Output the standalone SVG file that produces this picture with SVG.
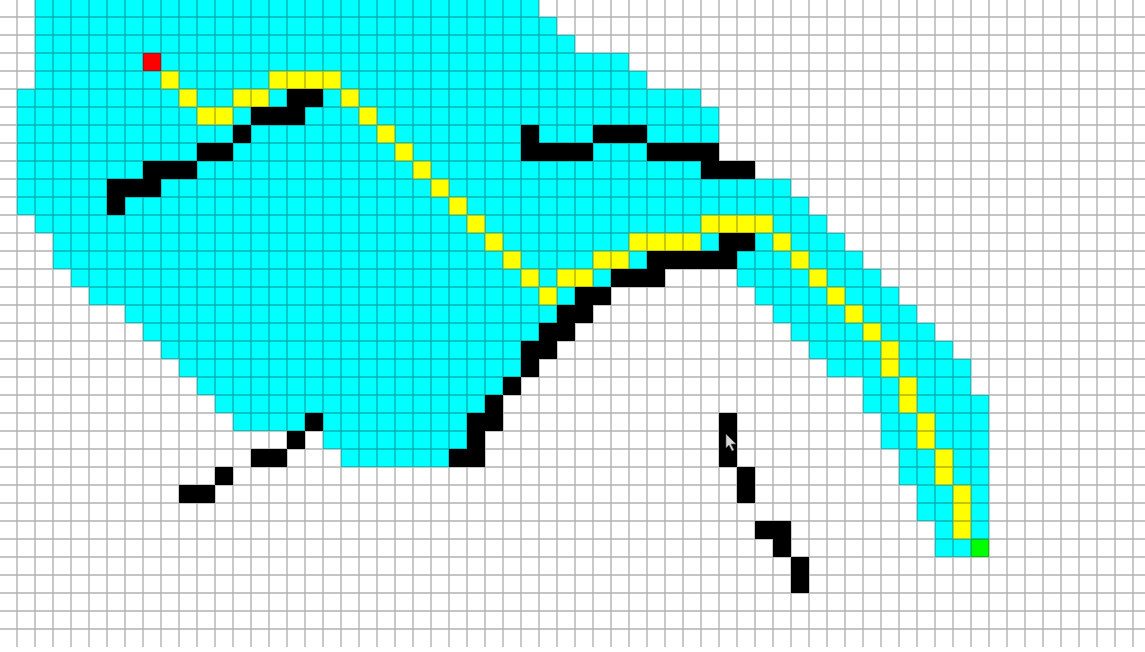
<svg xmlns="http://www.w3.org/2000/svg" width="1145" height="652" viewBox="0 0 1145 652">
<style>
.cy{fill:#00ffff}
.wl{fill:#000000}
.pt{fill:#ffff00}
.st{fill:#ff0000}
.gl{fill:#00ff00}
.grid{fill:none;stroke:#000000;stroke-opacity:0.3;stroke-width:1.4}
</style>
<rect x="0" y="0" width="1145" height="652" fill="#ffffff"/>
<g transform="translate(-1,-1)">
<g id="explored">
<rect class="cy" x="36" y="0" width="504" height="18"/>
<rect class="cy" x="36" y="18" width="522" height="18"/>
<rect class="cy" x="36" y="36" width="540" height="18"/>
<rect class="cy" x="36" y="54" width="594" height="18"/>
<rect class="cy" x="36" y="72" width="612" height="18"/>
<rect class="cy" x="18" y="90" width="684" height="18"/>
<rect class="cy" x="18" y="108" width="702" height="18"/>
<rect class="cy" x="18" y="126" width="702" height="18"/>
<rect class="cy" x="18" y="144" width="630" height="18"/>
<rect class="cy" x="18" y="162" width="684" height="18"/>
<rect class="cy" x="18" y="180" width="774" height="18"/>
<rect class="cy" x="18" y="198" width="792" height="18"/>
<rect class="cy" x="36" y="216" width="792" height="18"/>
<rect class="cy" x="54" y="234" width="792" height="18"/>
<rect class="cy" x="54" y="252" width="810" height="18"/>
<rect class="cy" x="72" y="270" width="540" height="18"/>
<rect class="cy" x="738" y="270" width="144" height="18"/>
<rect class="cy" x="90" y="288" width="486" height="18"/>
<rect class="cy" x="756" y="288" width="144" height="18"/>
<rect class="cy" x="126" y="306" width="432" height="18"/>
<rect class="cy" x="774" y="306" width="144" height="18"/>
<rect class="cy" x="144" y="324" width="396" height="18"/>
<rect class="cy" x="792" y="324" width="144" height="18"/>
<rect class="cy" x="162" y="342" width="360" height="18"/>
<rect class="cy" x="810" y="342" width="144" height="18"/>
<rect class="cy" x="180" y="360" width="342" height="18"/>
<rect class="cy" x="828" y="360" width="144" height="18"/>
<rect class="cy" x="198" y="378" width="306" height="18"/>
<rect class="cy" x="864" y="378" width="108" height="18"/>
<rect class="cy" x="216" y="396" width="270" height="18"/>
<rect class="cy" x="864" y="396" width="126" height="18"/>
<rect class="cy" x="234" y="414" width="234" height="18"/>
<rect class="cy" x="882" y="414" width="108" height="18"/>
<rect class="cy" x="324" y="432" width="144" height="18"/>
<rect class="cy" x="882" y="432" width="108" height="18"/>
<rect class="cy" x="342" y="450" width="108" height="18"/>
<rect class="cy" x="900" y="450" width="90" height="18"/>
<rect class="cy" x="900" y="468" width="90" height="18"/>
<rect class="cy" x="918" y="486" width="72" height="18"/>
<rect class="cy" x="918" y="504" width="72" height="18"/>
<rect class="cy" x="936" y="522" width="54" height="18"/>
<rect class="cy" x="936" y="540" width="36" height="18"/>
</g>
<g id="walls">
<rect class="wl" x="288" y="90" width="36" height="18"/>
<rect class="wl" x="252" y="108" width="54" height="18"/>
<rect class="wl" x="234" y="126" width="18" height="18"/>
<rect class="wl" x="522" y="126" width="18" height="18"/>
<rect class="wl" x="594" y="126" width="54" height="18"/>
<rect class="wl" x="198" y="144" width="36" height="18"/>
<rect class="wl" x="522" y="144" width="72" height="18"/>
<rect class="wl" x="648" y="144" width="72" height="18"/>
<rect class="wl" x="144" y="162" width="54" height="18"/>
<rect class="wl" x="702" y="162" width="54" height="18"/>
<rect class="wl" x="108" y="180" width="54" height="18"/>
<rect class="wl" x="108" y="198" width="18" height="18"/>
<rect class="wl" x="720" y="234" width="36" height="18"/>
<rect class="wl" x="648" y="252" width="90" height="18"/>
<rect class="wl" x="612" y="270" width="54" height="18"/>
<rect class="wl" x="576" y="288" width="36" height="18"/>
<rect class="wl" x="558" y="306" width="36" height="18"/>
<rect class="wl" x="540" y="324" width="36" height="18"/>
<rect class="wl" x="522" y="342" width="36" height="18"/>
<rect class="wl" x="522" y="360" width="18" height="18"/>
<rect class="wl" x="504" y="378" width="18" height="18"/>
<rect class="wl" x="486" y="396" width="18" height="18"/>
<rect class="wl" x="468" y="414" width="36" height="18"/>
<rect class="wl" x="468" y="432" width="18" height="18"/>
<rect class="wl" x="450" y="450" width="36" height="18"/>
<rect class="wl" x="306" y="414" width="18" height="18"/>
<rect class="wl" x="288" y="432" width="18" height="18"/>
<rect class="wl" x="252" y="450" width="36" height="18"/>
<rect class="wl" x="216" y="468" width="18" height="18"/>
<rect class="wl" x="180" y="486" width="36" height="18"/>
<rect class="wl" x="720" y="414" width="18" height="54"/>
<rect class="wl" x="738" y="468" width="18" height="36"/>
<rect class="wl" x="756" y="522" width="36" height="18"/>
<rect class="wl" x="774" y="540" width="18" height="18"/>
<rect class="wl" x="792" y="558" width="18" height="36"/>
</g>
<g id="route">
<rect class="pt" x="162" y="72" width="18" height="18"/>
<rect class="pt" x="180" y="90" width="18" height="18"/>
<rect class="pt" x="198" y="108" width="36" height="18"/>
<rect class="pt" x="234" y="90" width="36" height="18"/>
<rect class="pt" x="270" y="72" width="72" height="18"/>
<rect class="pt" x="342" y="90" width="18" height="18"/>
<rect class="pt" x="360" y="108" width="18" height="18"/>
<rect class="pt" x="378" y="126" width="18" height="18"/>
<rect class="pt" x="396" y="144" width="18" height="18"/>
<rect class="pt" x="414" y="162" width="18" height="18"/>
<rect class="pt" x="432" y="180" width="18" height="18"/>
<rect class="pt" x="450" y="198" width="18" height="18"/>
<rect class="pt" x="468" y="216" width="18" height="18"/>
<rect class="pt" x="486" y="234" width="18" height="18"/>
<rect class="pt" x="504" y="252" width="18" height="18"/>
<rect class="pt" x="522" y="270" width="18" height="18"/>
<rect class="pt" x="540" y="288" width="18" height="18"/>
<rect class="pt" x="558" y="270" width="36" height="18"/>
<rect class="pt" x="594" y="252" width="36" height="18"/>
<rect class="pt" x="630" y="234" width="72" height="18"/>
<rect class="pt" x="702" y="216" width="72" height="18"/>
<rect class="pt" x="774" y="234" width="18" height="18"/>
<rect class="pt" x="792" y="252" width="18" height="18"/>
<rect class="pt" x="810" y="270" width="18" height="18"/>
<rect class="pt" x="828" y="288" width="18" height="18"/>
<rect class="pt" x="846" y="306" width="18" height="18"/>
<rect class="pt" x="864" y="324" width="18" height="18"/>
<rect class="pt" x="882" y="342" width="18" height="36"/>
<rect class="pt" x="900" y="378" width="18" height="36"/>
<rect class="pt" x="918" y="414" width="18" height="36"/>
<rect class="pt" x="936" y="450" width="18" height="36"/>
<rect class="pt" x="954" y="486" width="18" height="54"/>
</g>
<g id="start"><rect class="st" x="144" y="54" width="18" height="18"/></g>
<g id="goal"><rect class="gl" x="972" y="540" width="18" height="18"/></g>
<g id="grid">
<path class="grid" d="M18 0V648M36 0V648M54 0V648M72 0V648M90 0V648M108 0V648M126 0V648M144 0V648M162 0V648M180 0V648M198 0V648M216 0V648M234 0V648M252 0V648M270 0V648M288 0V648M306 0V648M324 0V648M342 0V648M360 0V648M378 0V648M396 0V648M414 0V648M432 0V648M450 0V648M468 0V648M486 0V648M504 0V648M522 0V648M540 0V648M558 0V648M576 0V648M594 0V648M612 0V648M630 0V648M648 0V648M666 0V648M684 0V648M702 0V648M720 0V648M738 0V648M756 0V648M774 0V648M792 0V648M810 0V648M828 0V648M846 0V648M864 0V648M882 0V648M900 0V648M918 0V648M936 0V648M954 0V648M972 0V648M990 0V648M1008 0V648M1026 0V648M1044 0V648M1062 0V648M1080 0V648M1098 0V648M1116 0V648M1134 0V648M0 18H1146M0 36H1146M0 54H1146M0 72H1146M0 90H1146M0 108H1146M0 126H1146M0 144H1146M0 162H1146M0 180H1146M0 198H1146M0 216H1146M0 234H1146M0 252H1146M0 270H1146M0 288H1146M0 306H1146M0 324H1146M0 342H1146M0 360H1146M0 378H1146M0 396H1146M0 414H1146M0 432H1146M0 450H1146M0 468H1146M0 486H1146M0 504H1146M0 522H1146M0 540H1146M0 558H1146M0 576H1146M0 594H1146M0 612H1146M0 630H1146"/>
</g>
</g>
<g id="cursor">
<path d="M726 434V448L729 445L732 451L734 450L731 444L736 444Z" fill="#d8d8d8" stroke="#555555" stroke-width="0.6"/>
</g>
</svg>
